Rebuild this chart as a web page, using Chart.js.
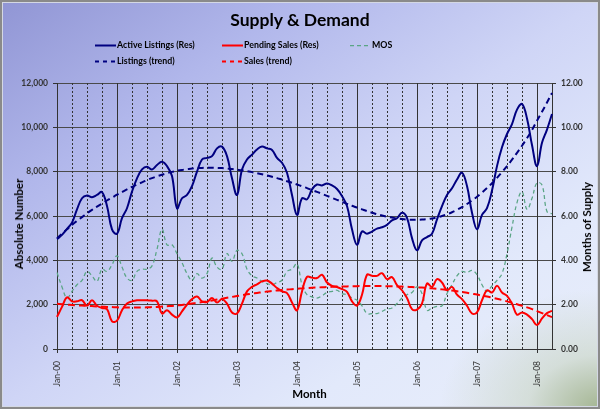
<!DOCTYPE html>
<html><head><meta charset="utf-8">
<script src="https://cdn.jsdelivr.net/npm/chart.js@4.4.1/dist/chart.umd.min.js"></script>
<style>
html,body{margin:0;padding:0;}
#wrap{position:relative;width:600px;height:409px;overflow:hidden;font-family:Lato,'Open Sans',sans-serif;
 background:
  radial-gradient(ellipse 160px 120px at 100% 100%, rgba(160,178,140,0.95) 0%, rgba(200,212,195,0.6) 45%, rgba(228,234,250,0) 100%),
  linear-gradient(to bottom right, #9095d4 0%, #b1b7eb 25%, #cfd5f6 50%, #e2e9fb 75%, #e9eefa 100%);}
#frame{position:absolute;left:0;top:0;width:600px;height:409px;box-sizing:border-box;border:2px solid #8a8a8a;box-shadow:inset 0 0 0 1px #d4d8e4;pointer-events:none;}
canvas{position:absolute;left:0;top:0;}
#title{position:absolute;top:10px;left:0;width:600px;text-align:center;font-weight:bold;font-size:17.5px;line-height:20px;color:#000;}
.leg{position:absolute;font-weight:bold;font-size:8.8px;line-height:12px;color:#000;white-space:nowrap;}
.sw{position:absolute;}
.ax{position:absolute;font-weight:bold;font-size:11.5px;line-height:14px;color:#000;white-space:nowrap;transform:translate(-50%,-50%);}
.rot{transform:translate(-50%,-50%) rotate(-90deg);}
</style></head>
<body>
<div id="wrap">
<canvas id="c" width="600" height="409"></canvas>
<div id="title">Supply &amp; Demand</div>
<svg class="sw" style="left:95px;top:43px" width="21" height="5"><line x1="0" y1="2.5" x2="21" y2="2.5" stroke="#000080" stroke-width="2"/></svg>
<div class="leg" style="left:117px;top:38.6px">Active Listings (Res)</div>
<svg class="sw" style="left:222px;top:43px" width="21" height="5"><line x1="0" y1="2.5" x2="21" y2="2.5" stroke="#ff0000" stroke-width="2"/></svg>
<div class="leg" style="left:244px;top:38.6px">Pending Sales (Res)</div>
<svg class="sw" style="left:350px;top:43px" width="18" height="5"><line x1="0" y1="2.5" x2="18" y2="2.5" stroke="#5aa585" stroke-width="1.25" stroke-dasharray="4,3"/></svg>
<div class="leg" style="left:372px;top:38.6px">MOS</div>
<svg class="sw" style="left:95px;top:58.5px" width="21" height="5"><line x1="0" y1="2.5" x2="21" y2="2.5" stroke="#000080" stroke-width="2" stroke-dasharray="4,4"/></svg>
<div class="leg" style="left:117px;top:54.6px">Listings (trend)</div>
<svg class="sw" style="left:222px;top:58.5px" width="21" height="5"><line x1="0" y1="2.5" x2="21" y2="2.5" stroke="#ff0000" stroke-width="2" stroke-dasharray="4,4"/></svg>
<div class="leg" style="left:244px;top:54.6px">Sales (trend)</div>
<div class="ax rot" style="left:19px;top:224px">Absolute Number</div>
<div class="ax rot" style="left:587px;top:227px">Months of Supply</div>
<div class="ax" style="left:309.5px;top:394px">Month</div>
<div id="frame"></div>
</div>
<script>
// Categories: monthly, Jan-00 .. Apr-08
const monthNames = ['Jan','Feb','Mar','Apr','May','Jun','Jul','Aug','Sep','Oct','Nov','Dec'];
const yearLabels = ['00','01','02','03','04','05','06','07','08'];
const categories = [];
for (const y of yearLabels) for (const m of monthNames) { if (categories.length < 100) categories.push(m + '-' + y); }

// Series values
const activeListings = [
 4950,5150,5420,5700,6300,6800,6920,6850,6950,7080,
 6450,5400,5200,5900,6350,7100,7700,8100,8220,8100,
 8300,8450,8250,7800,6350,6800,6950,7350,8000,8550,
 8620,8700,9050,9130,8700,7700,6950,8100,8550,8770,
 9000,9130,9050,8980,8620,8400,7950,6950,6050,6800,
 6750,7200,7420,7380,7470,7380,7220,6900,6450,5400,
 4700,5300,5200,5300,5430,5490,5600,5800,5900,6150,
 5920,5000,4450,4900,5050,5200,5850,6450,6950,7250,
 7650,7950,7350,6150,5400,6050,6350,7150,8250,9100,
 9700,10150,10800,11050,10400,9200,8250,9300,9900,10600];
const pendingSales = [
 1450,1900,2330,2150,2150,2200,1950,2200,1950,1850,
 1800,1250,1280,1750,2050,2150,2200,2200,2200,2180,
 2150,1600,1750,1550,1420,1700,2000,2250,2370,2150,
 2120,2300,2100,2250,2050,1650,1600,2050,2600,2800,
 2920,3050,3090,2950,2750,2600,2520,2100,1750,2600,
 3250,3220,3200,3350,3000,2850,2800,2700,2580,2150,
 1960,2450,3350,3300,3300,3420,3150,3240,2880,2650,
 2300,1800,1780,2050,2950,2800,3150,3000,2650,2800,
 2450,2250,1950,1600,1650,2200,2650,2550,2850,2550,
 2400,2050,1550,1650,1550,1350,1080,1380,1620,1720];
const listingsTrend = [
 5000,5200,5400,5600,5780,5950,6120,6280,6420,6560,
 6700,6830,6960,7080,7200,7310,7420,7520,7620,7710,
 7790,7860,7930,7990,8040,8080,8110,8140,8160,8170,
 8180,8180,8170,8160,8140,8120,8090,8060,8020,7980,
 7930,7880,7830,7770,7710,7640,7570,7500,7420,7340,
 7260,7170,7090,7000,6910,6820,6730,6640,6550,6460,
 6380,6300,6220,6150,6080,6020,5970,5930,5890,5860,
 5840,5830,5830,5840,5860,5890,5940,6000,6080,6170,
 6280,6400,6540,6700,6870,7060,7260,7480,7720,7980,
 8250,8540,8850,9170,9510,9880,10300,10700,11120,11550];
const salesTrend = [
 2040,2020,2000,1985,1970,1960,1950,1935,1920,1910,
 1900,1890,1880,1875,1870,1870,1870,1875,1880,1890,
 1900,1915,1930,1945,1965,1990,2020,2050,2080,2115,
 2150,2190,2230,2270,2310,2350,2390,2430,2465,2500,
 2530,2560,2590,2615,2640,2660,2680,2700,2720,2735,
 2750,2765,2775,2785,2795,2805,2815,2820,2825,2830,
 2835,2838,2840,2840,2840,2838,2835,2830,2822,2815,
 2805,2795,2785,2770,2755,2735,2715,2690,2665,2635,
 2605,2570,2535,2495,2455,2410,2365,2315,2265,2210,
 2150,2085,2020,1950,1880,1800,1710,1620,1530,1440];
const mos = [
 3.45,2.8,2.3,2.6,2.9,3.1,3.5,3.3,3.05,3.6,
 3.5,3.8,4.2,3.7,3.2,3.1,3.5,3.6,3.6,3.75,
 4.5,5.4,4.7,4.7,4.3,3.9,3.4,3.1,3.4,3.2,
 3.4,4.1,3.7,3.6,4.3,3.95,4.45,4.3,3.6,3.3,
 3.2,3.05,2.95,2.9,3.0,3.1,3.5,3.6,3.85,2.9,
 2.45,2.35,2.3,2.4,2.55,2.6,2.65,2.5,2.45,2.3,
 2.2,1.95,1.6,1.6,1.6,1.7,1.8,1.85,2.05,2.3,
 2.45,2.55,2.8,2.5,1.75,1.85,1.92,1.95,2.5,2.9,
 3.3,3.5,3.45,3.55,3.35,2.9,2.6,2.85,3.1,3.4,
 4.3,5.5,6.6,7.1,6.3,6.8,7.5,7.4,6.2,6.1];
const leftTicks = [0,2000,4000,6000,8000,10000,12000];
const rightTicks = [0,2,4,6,8,10,12];

const GRID = '#4a4a4a';
const FONT = 'Lato, "Open Sans", sans-serif';

// Vertical month grid: solid at each January, dotted at the other quarter starts
const monthGrid = {
  id:'monthGrid',
  beforeDatasetsDraw(chart){
    const {ctx, chartArea:a, scales:{x}} = chart;
    ctx.save();
    ctx.lineWidth = 1;
    ctx.strokeStyle = '#333';
    for (let i = 0; i < categories.length; i += 3) {
      const px = Math.round(x.getPixelForValue(i)) + 0.5;
      const jan = (i % 12 === 0);
      ctx.setLineDash(jan ? [] : [2,2]);
      ctx.beginPath();
      ctx.moveTo(px, a.top);
      ctx.lineTo(px, jan ? a.bottom + 4 : a.bottom);
      ctx.stroke();
    }
    ctx.restore();
  }
};

new Chart(document.getElementById('c'), {
  type: 'line',
  data: {
    labels: categories,
    datasets: [
      {label:'Active Listings (Res)', data:activeListings, borderColor:'#000080', borderWidth:2, tension:0.4, yAxisID:'y'},
      {label:'Pending Sales (Res)', data:pendingSales, borderColor:'#ff0000', borderWidth:2, tension:0.4, yAxisID:'y'},
      {label:'Listings (trend)', data:listingsTrend, borderColor:'#000080', borderWidth:2, borderDash:[6,4], tension:0.4, yAxisID:'y'},
      {label:'Sales (trend)', data:salesTrend, borderColor:'#ff0000', borderWidth:2, borderDash:[7,4], tension:0.4, yAxisID:'y'},
      {label:'MOS', data:mos, borderColor:'#5aa585', borderWidth:1.25, borderDash:[4,3], tension:0.4, yAxisID:'y2'}
    ]
  },
  plugins:[monthGrid],
  options: {
    responsive:false, animation:false, devicePixelRatio:1,
    layout:{padding:{top:83,left:0,right:0,bottom:0}},
    plugins:{legend:{display:false}, title:{display:false}, tooltip:{enabled:false}},
    elements:{point:{radius:0}},
    scales:{
      x:{
        type:'category', offset:false,
        grid:{display:false},
        border:{display:true, color:'#333', width:1},
        ticks:{autoSkip:false, maxRotation:90, minRotation:90, padding:4, color:'#333',
          font:{family:FONT, size:8.5},
          callback:(v,i)=> (i % 12 === 0) ? categories[i] : ''},
        afterFit: s => { s.height = 60; }
      },
      y:{
        position:'left', min:0, max:12000,
        afterBuildTicks: s => { s.ticks = leftTicks.map(v=>({value:v})); },
        ticks:{callback:v=>v.toLocaleString('en-US'), color:'#333', padding:5,
          font:{family:FONT, size:8.5, weight:'bold'}},
        grid:{color:GRID, lineWidth:1, tickLength:4, tickColor:'#333'},
        border:{color:'#333'},
        afterFit: s => { s.width = 57; }
      },
      y2:{
        position:'right', min:0, max:12,
        afterBuildTicks: s => { s.ticks = rightTicks.map(v=>({value:v})); },
        ticks:{callback:v=>v.toFixed(2), color:'#333', padding:5,
          font:{family:FONT, size:8.5, weight:'bold'}},
        grid:{drawOnChartArea:false, tickLength:4, tickColor:'#333'},
        border:{color:'#333'},
        afterFit: s => { s.width = 48; }
      }
    }
  }
});
</script>
</body></html>
